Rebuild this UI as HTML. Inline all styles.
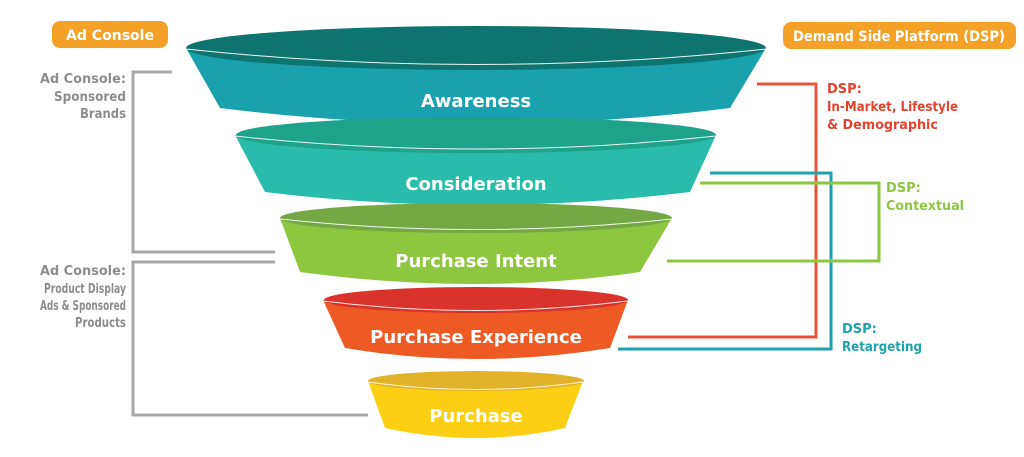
<!DOCTYPE html>
<html><head><style>
html,body{margin:0;padding:0;background:#fff;}
svg{display:block;font-family:"DejaVu Sans","Liberation Sans",sans-serif;font-weight:bold;}
</style></head><body>
<svg width="1024" height="457" viewBox="0 0 1024 457" xmlns="http://www.w3.org/2000/svg">
<g fill="none" stroke-width="3">
<polyline points="172,72 133,72 133,252 275,252" stroke="#a8a8a8"/>
<polyline points="275,262 133,262 133,415 368,415" stroke="#a8a8a8"/>
<polyline points="757,84 816,84 816,337 628,337" stroke="#e8543a"/>
<polyline points="710,173 831,173 831,349 618,349" stroke="#1fa2b0"/>
<polyline points="700,183 879,183 879,261 667,261" stroke="#8dc63f"/>
</g>
<path d="M186,48 L220,108 Q476,140 730,108 L766,48 Z" fill="#19a1ad"/>
<ellipse cx="476" cy="48" rx="290" ry="22" fill="#0e7470"/>
<path d="M186,49 Q476,80 766,49" fill="none" stroke="#e8f6f6" stroke-width="1"/>
<path d="M235,135 L265,192 Q476,218 690,192 L716,135 Z" fill="#29bbac"/>
<ellipse cx="476" cy="135" rx="240" ry="18" fill="#1ea38a"/>
<path d="M235,136 Q476,162 716,136" fill="none" stroke="#e8f6f6" stroke-width="1"/>
<path d="M280,218 L300,272 Q476,296 640,272 L672,218 Z" fill="#8dc63f"/>
<ellipse cx="476" cy="218" rx="196" ry="15" fill="#74a844"/>
<path d="M280,219 Q476,240 672,219" fill="none" stroke="#f0f8e6" stroke-width="1"/>
<path d="M323,300 L345,348 Q476,370 610,348 L628,300 Z" fill="#ee5a24"/>
<ellipse cx="476" cy="300" rx="152" ry="13" fill="#d9332b"/>
<path d="M323,301 Q476,320 628,301" fill="none" stroke="#fbe6e0" stroke-width="1"/>
<path d="M368,381 L385,428 Q476,448 565,428 L583,381 Z" fill="#fccf14"/>
<ellipse cx="476" cy="381" rx="108" ry="10" fill="#e2b22a"/>
<path d="M368,382 Q476,397 583,382" fill="none" stroke="#fff6d8" stroke-width="1"/>
<g fill="#fff" font-size="18" text-anchor="middle">
<text x="476" y="107">Awareness</text>
<text x="476" y="190">Consideration</text>
<text x="476" y="267">Purchase Intent</text>
<text x="476" y="343">Purchase Experience</text>
<text x="476" y="422">Purchase</text>
</g>
<rect x="52" y="21" width="116" height="27" rx="8" fill="#f5a026"/>
<text x="66" y="40" fill="#fff" font-size="14" textLength="88" lengthAdjust="spacingAndGlyphs">Ad Console</text>
<rect x="783" y="22" width="233" height="27" rx="8" fill="#f5a026"/>
<text x="793" y="41" fill="#fff" font-size="14" textLength="212" lengthAdjust="spacingAndGlyphs">Demand Side Platform (DSP)</text>
<g fill="#8c8c8c" font-size="13">
<text x="40" y="83" textLength="86" lengthAdjust="spacingAndGlyphs">Ad Console:</text>
<text x="54" y="101" textLength="72" lengthAdjust="spacingAndGlyphs">Sponsored</text>
<text x="80" y="118" textLength="46" lengthAdjust="spacingAndGlyphs">Brands</text>
<text x="40" y="275" textLength="86" lengthAdjust="spacingAndGlyphs">Ad Console:</text>
<text x="44" y="293" textLength="82" lengthAdjust="spacingAndGlyphs">Product Display</text>
<text x="40" y="310" textLength="86" lengthAdjust="spacingAndGlyphs">Ads &amp; Sponsored</text>
<text x="75" y="327" textLength="51" lengthAdjust="spacingAndGlyphs">Products</text>
</g>
<g font-size="13">
<text x="827" y="93" fill="#e2432d">DSP:</text>
<text x="827" y="111" fill="#e2432d" textLength="131" lengthAdjust="spacingAndGlyphs">In-Market, Lifestyle</text>
<text x="827" y="129" fill="#e2432d" textLength="111" lengthAdjust="spacingAndGlyphs">&amp; Demographic</text>
<text x="886" y="192" fill="#8dc63f">DSP:</text>
<text x="886" y="210" fill="#8dc63f" textLength="78" lengthAdjust="spacingAndGlyphs">Contextual</text>
<text x="842" y="333" fill="#1fa2b0">DSP:</text>
<text x="842" y="351" fill="#1fa2b0" textLength="80" lengthAdjust="spacingAndGlyphs">Retargeting</text>
</g>
</svg>
</body></html>
